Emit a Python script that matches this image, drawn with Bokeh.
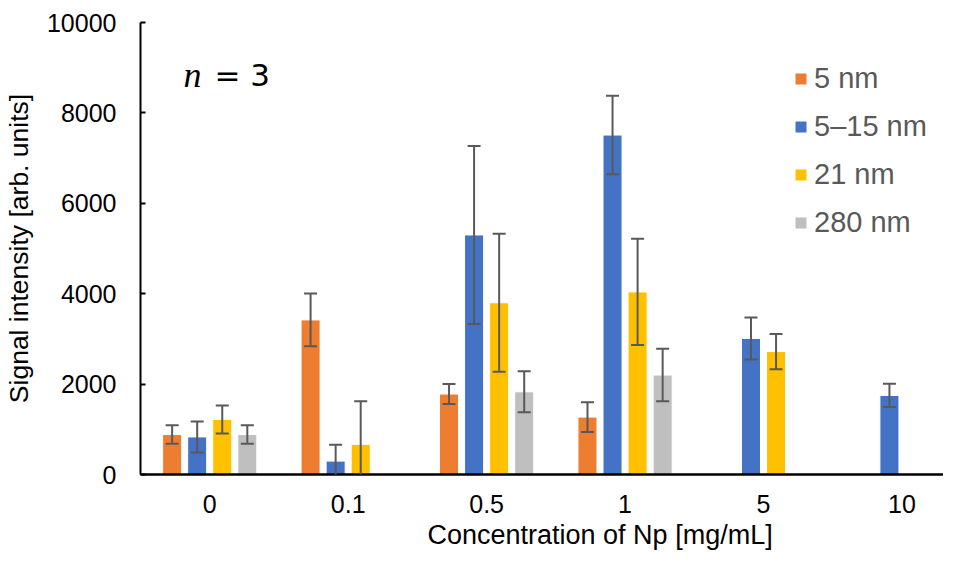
from bokeh.plotting import figure
from bokeh.models import (ColumnDataSource, Range1d, FixedTicker, Whisker, TeeHead,
                          Legend, LegendItem, Label, Title)
from bokeh.embed import file_html
from bokeh.resources import INLINE

# ---- data ----
categories = ["0", "0.1", "0.5", "1", "5", "10"]
series_names = ["5 nm", "5\u201315 nm", "21 nm", "280 nm"]
vals_5 = [884, 3420, 1780, 1270, None, None]
err_5 = [204, 585, 220, 330, None, None]
vals_5_15 = [831, 296, 5300, 7510, 3010, 1750]
err_5_15 = [342, 360, 1970, 870, 465, 255]
vals_21 = [1218, 668, 3800, 4040, 2720, None]
err_21 = [309, 955, 1525, 1175, 390, None]
vals_280 = [884, None, 1830, 2200, None, None]
err_280 = [204, None, 455, 580, None, None]
colors = ["#ED7D31", "#4472C4", "#FFC000", "#BFBFBF"]
y_ticks = [0, 2000, 4000, 6000, 8000, 10000]
x_title = "Concentration of Np [mg/mL]"
y_title = "Signal intensity [arb. units]"

all_vals = [vals_5, vals_5_15, vals_21, vals_280]
all_errs = [err_5, err_5_15, err_21, err_280]

FONT = "Liberation Sans"

p = figure(width=943, height=555, output_backend="svg", toolbar_location=None,
           x_range=Range1d(-0.5, 5.30), y_range=Range1d(0, 10000),
           min_border_left=137, min_border_right=0, min_border_top=22,
           min_border_bottom=81)
p.outline_line_color = None
p.xgrid.visible = False
p.ygrid.visible = False

bar_w = 0.1375
step = 0.181
legend_items = []
for k, (vals, errs, col, name) in enumerate(zip(all_vals, all_errs, colors, series_names)):
    off = (k - 1.5) * step
    xs, tops, ups, lows = [], [], [], []
    for i, (v, e) in enumerate(zip(vals, errs)):
        if v is None:
            continue
        xs.append(i + off)
        tops.append(v)
        ups.append(v + e)
        lows.append(v - e)
    src = ColumnDataSource(dict(x=xs, top=tops, upper=ups, lower=lows))
    r = p.vbar(x="x", top="top", width=bar_w, bottom=0, source=src,
               fill_color=col, line_color="white", line_width=1)
    legend_items.append(LegendItem(label=name, renderers=[r]))
    w = Whisker(base="x", upper="upper", lower="lower", source=src, level="overlay",
                line_color="#595959", line_width=2,
                upper_head=TeeHead(size=13, line_color="#595959", line_width=2),
                lower_head=TeeHead(size=13, line_color="#595959", line_width=2))
    p.add_layout(w)

# axes
xa = p.xaxis[0]
xa.ticker = FixedTicker(ticks=list(range(len(categories))))
xa.major_label_overrides = {i: c for i, c in enumerate(categories)}
xa.major_tick_in = 0
xa.major_tick_out = 0
xa.minor_tick_in = 0
xa.minor_tick_out = 0
xa.axis_line_color = "black"
xa.axis_line_width = 2.5
xa.major_label_text_font = FONT
xa.major_label_text_font_size = "25px"
xa.major_label_text_color = "black"
xa.major_label_standoff = 20

ya = p.yaxis[0]
ya.ticker = FixedTicker(ticks=y_ticks)
ya.minor_tick_in = 0
ya.minor_tick_out = 0
ya.major_tick_in = 5
ya.major_tick_out = 0
ya.major_tick_line_width = 2
ya.axis_line_color = "black"
ya.axis_line_width = 2
ya.major_label_text_font = FONT
ya.major_label_text_font_size = "25px"
ya.major_label_text_color = "black"
ya.major_label_standoff = 24
ya.axis_label = y_title
ya.axis_label_text_font = FONT
ya.axis_label_text_font_size = "26.5px"
ya.axis_label_text_font_style = "normal"
ya.axis_label_text_color = "black"
ya.axis_label_standoff = 10

# x-axis title, placed like the original (further right than the frame centre)
p.add_layout(Title(text=x_title, align="left", offset=287, standoff=4,
                   text_font=FONT, text_font_size="27px",
                   text_font_style="normal", text_color="black"), "below")

legend = Legend(items=legend_items, location=(653, 235), padding=0, margin=0,
                border_line_color=None, background_fill_alpha=0,
                glyph_width=15, glyph_height=15, label_standoff=6,
                spacing=15, label_text_font=FONT, label_text_font_size="29px",
                label_text_color="#595959")
p.add_layout(legend)

p.add_layout(Label(x=43, y=400, x_units="screen", y_units="screen", text="n",
                   text_font="Liberation Serif", text_font_style="italic",
                   text_font_size="36px", text_color="black",
                   text_baseline="alphabetic"))
p.add_layout(Label(x=74, y=400, x_units="screen", y_units="screen", text="= 3",
                   text_font="DejaVu Sans", text_font_size="31px",
                   text_color="black", text_baseline="alphabetic"))

open("out.html", "w").write(file_html(p, INLINE))
